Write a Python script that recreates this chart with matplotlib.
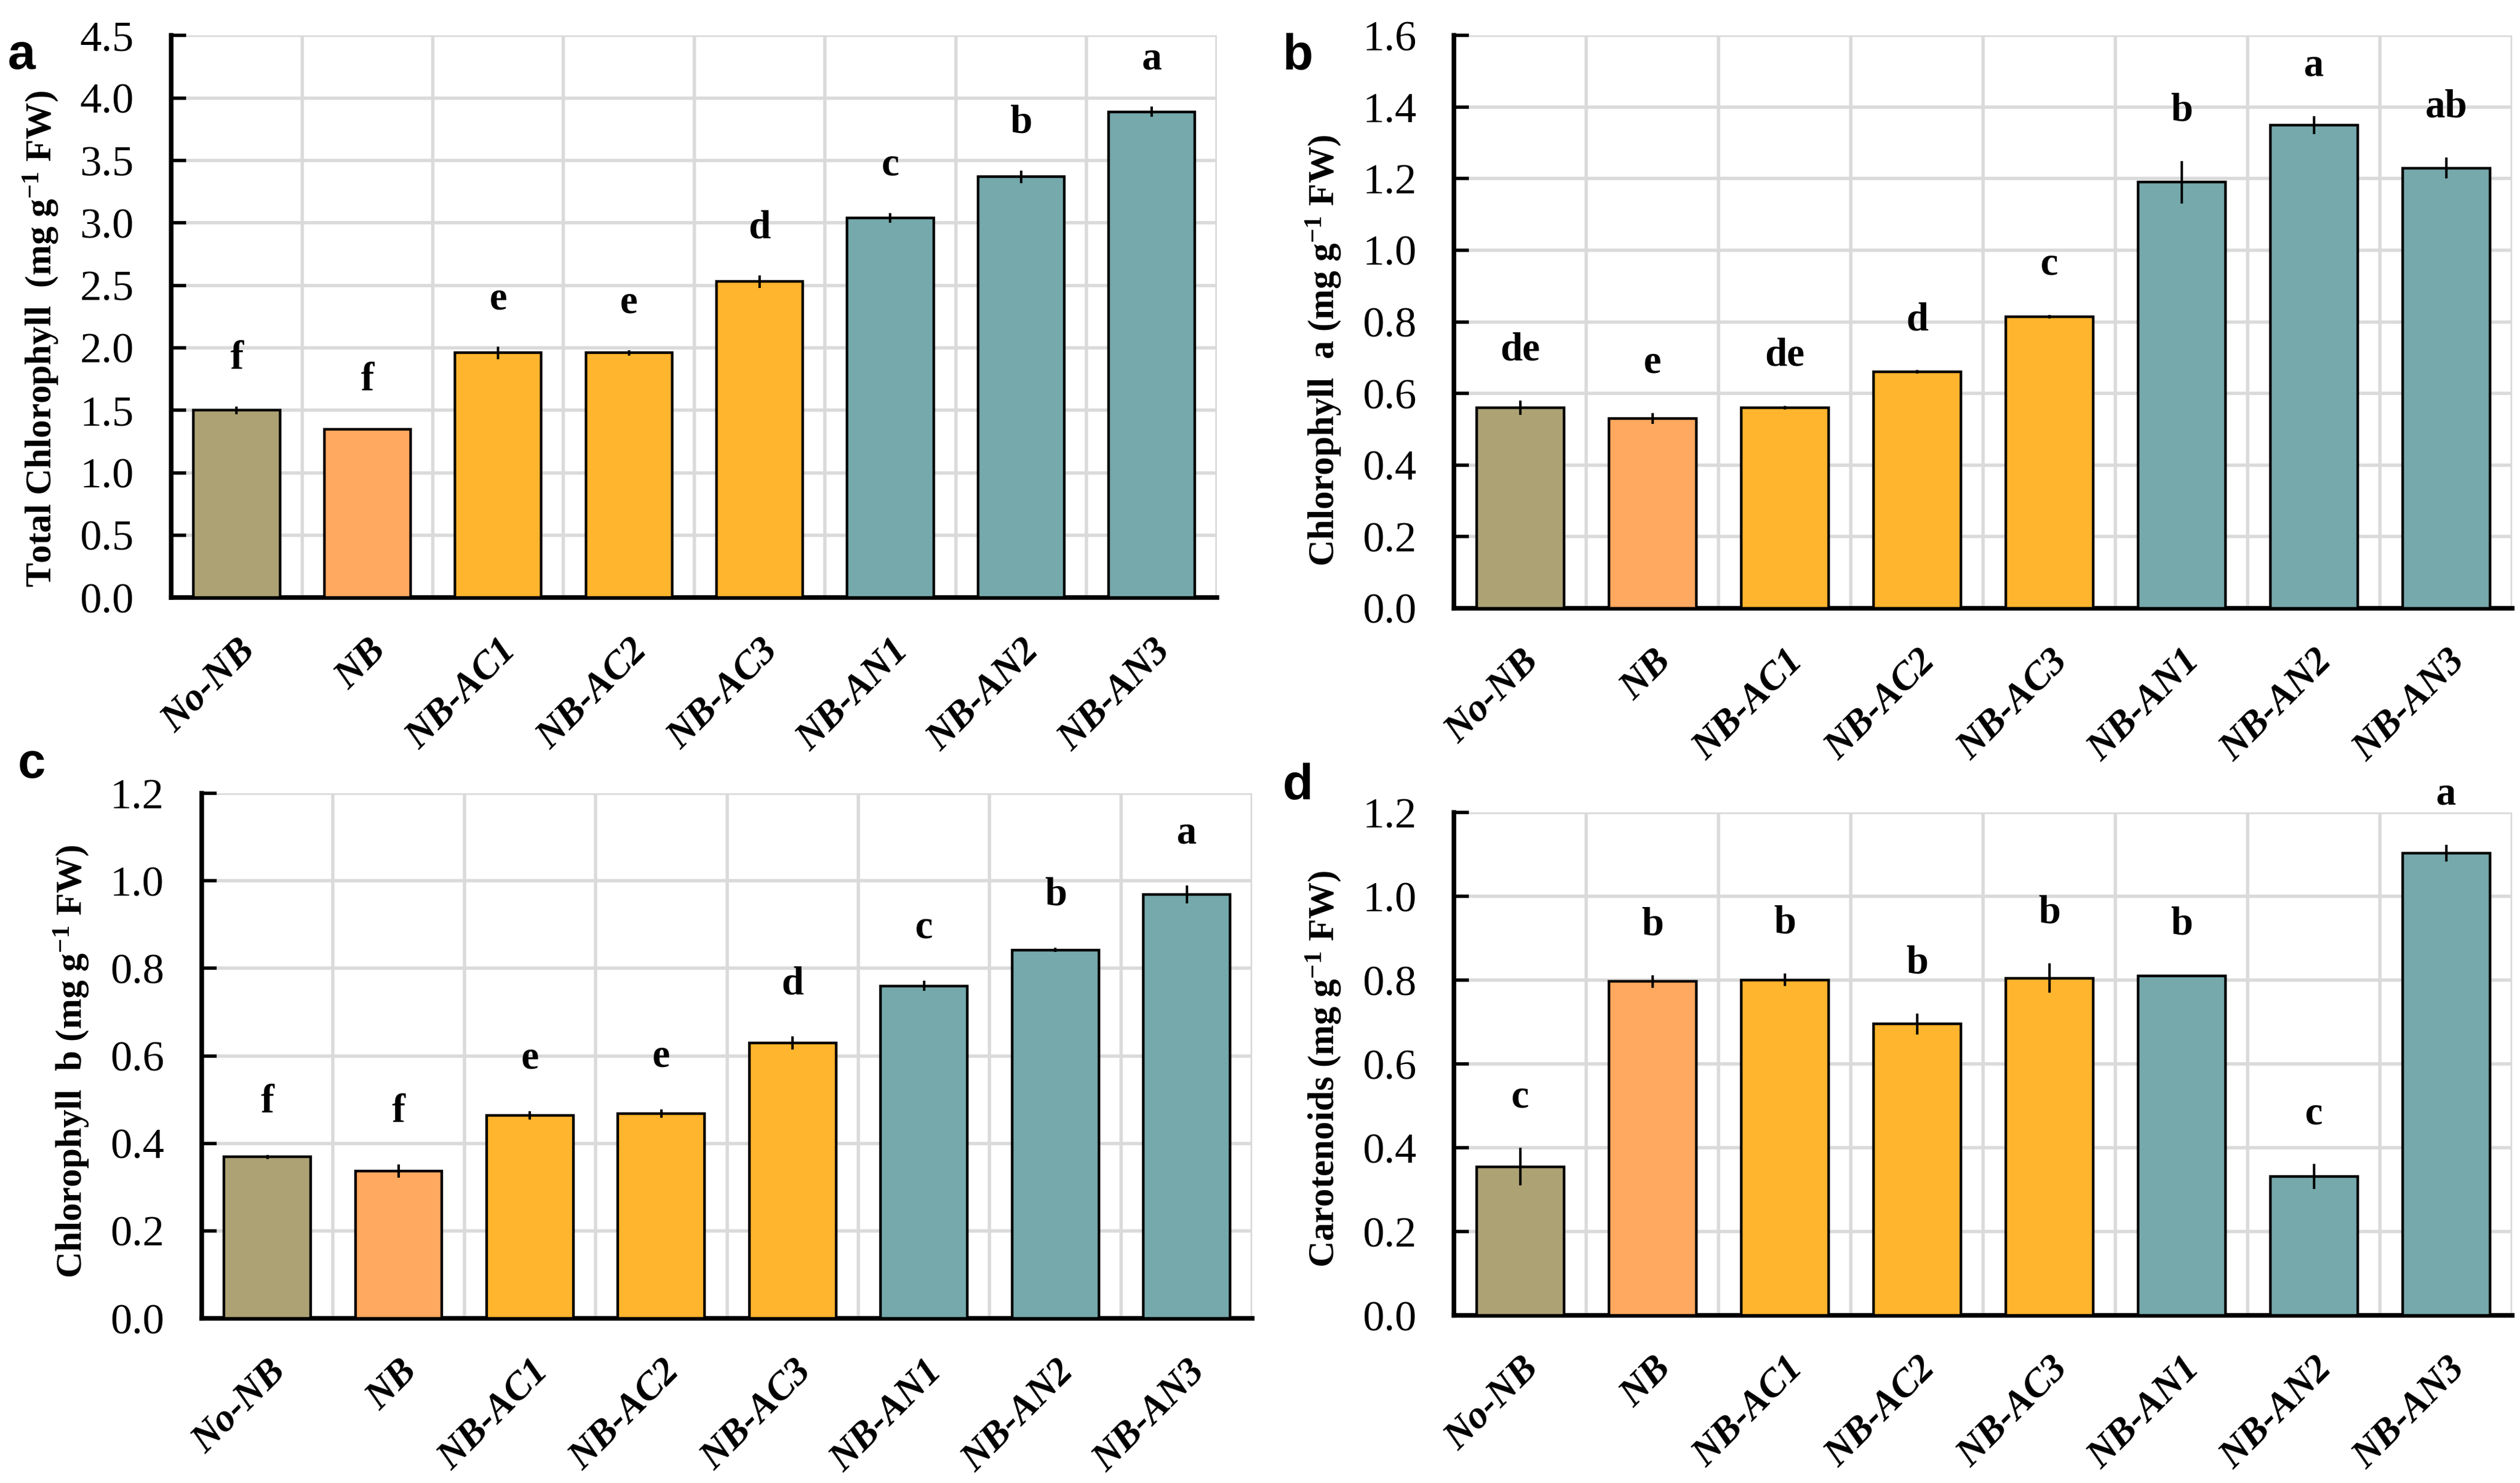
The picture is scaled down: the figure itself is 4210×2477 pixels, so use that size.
import numpy as np
import matplotlib
matplotlib.use('Agg')
import matplotlib.pyplot as plt
from matplotlib.ticker import MultipleLocator, FormatStrFormatter

# treatments and colours
groups = ['No-NB', 'NB', 'NB-AC1', 'NB-AC2', 'NB-AC3', 'NB-AN1', 'NB-AN2', 'NB-AN3']
bar_colors = ['#ADA273', '#FFA85F', '#FFB52D', '#FFB52D', '#FFB52D', '#75A9AC', '#75A9AC', '#75A9AC']

# a: total chlorophyll
total_chl = [1.50, 1.35, 1.96, 1.96, 2.53, 3.04, 3.37, 3.89]
total_chl_err = [0.03, 0.01, 0.05, 0.02, 0.05, 0.04, 0.05, 0.04]
total_chl_sig = ['f', 'f', 'e', 'e', 'd', 'c', 'b', 'a']

# b: chlorophyll a
chl_a = [0.56, 0.53, 0.56, 0.66, 0.815, 1.19, 1.35, 1.23]
chl_a_err = [0.02, 0.015, 0.005, 0.005, 0.005, 0.06, 0.025, 0.03]
chl_a_sig = ['de', 'e', 'de', 'd', 'c', 'b', 'a', 'ab']

# c: chlorophyll b
chl_b = [0.369, 0.337, 0.464, 0.468, 0.629, 0.760, 0.842, 0.969]
chl_b_err = [0.005, 0.015, 0.01, 0.01, 0.015, 0.012, 0.005, 0.02]
chl_b_sig = ['f', 'f', 'e', 'e', 'd', 'c', 'b', 'a']

# d: carotenoids
carot = [0.355, 0.797, 0.801, 0.696, 0.805, 0.810, 0.331, 1.104]
carot_err = [0.045, 0.015, 0.015, 0.025, 0.035, 0.003, 0.03, 0.02]
carot_sig = ['c', 'b', 'b', 'b', 'b', 'b', 'c', 'a']

plt.rcParams['font.family'] = ['Liberation Serif', 'DejaVu Serif']
plt.rcParams['mathtext.default'] = 'regular'

fig = plt.figure(figsize=(42.1, 24.77), dpi=100)

# tag, axes rect, values, errors, letters, ymax, tick step, ylabel, letter offset, tag position, ylabel y
panels = [
    ('a', [0.068, 0.597, 0.415, 0.379], total_chl, total_chl_err, total_chl_sig, 4.5, 0.5,
     'Total Chlorophyll  (mg g$^{-1}$ FW)', 0.38, (0.003, 0.978), 0.46),
    ('b', [0.577, 0.590, 0.420, 0.386], chl_a, chl_a_err, chl_a_sig, 1.6, 0.2,
     'Chlorophyll  a (mg g$^{-1}$ FW)', 0.14, (0.509, 0.978), 0.45),
    ('c', [0.080, 0.111, 0.417, 0.354], chl_b, chl_b_err, chl_b_sig, 1.2, 0.2,
     'Chlorophyll  b (mg g$^{-1}$ FW)', 0.12, (0.007, 0.500), 0.49),
    ('d', [0.577, 0.113, 0.420, 0.339], carot, carot_err, carot_sig, 1.2, 0.2,
     'Carotenoids (mg g$^{-1}$ FW)', 0.12, (0.509, 0.486), 0.49),
]

x = np.arange(len(groups))
for tag, rect, vals, errs, sig, ymax, step, ylab, off, tagpos, ylab_y in panels:
    ax = fig.add_axes(rect)
    ax.bar(x, vals, width=0.66, color=bar_colors, edgecolor='black', linewidth=3.2, zorder=3)
    ax.errorbar(x, vals, yerr=errs, fmt='none', ecolor='black', elinewidth=3, capsize=0, zorder=4)
    for xi, v, e, s in zip(x, vals, errs, sig):
        ax.text(xi, v + e + off, s, ha='center', va='center', fontsize=48, fontweight='bold')
    ax.set_xlim(-0.5, 7.5)
    ax.set_ylim(0, ymax)
    ax.yaxis.set_major_locator(MultipleLocator(step))
    ax.yaxis.set_major_formatter(FormatStrFormatter('%.1f'))
    ax.set_xticks(x)
    ax.set_xticks(np.arange(0.5, 8, 1), minor=True)
    ax.set_xticklabels(groups, rotation=45, ha='right', rotation_mode='anchor',
                       fontsize=47, fontweight='bold', fontstyle='italic')
    ax.tick_params(axis='x', which='major', direction='in', length=14, width=3, pad=42)
    ax.tick_params(axis='x', which='minor', length=0)
    ax.tick_params(axis='y', direction='in', length=18, width=4, labelsize=52, pad=45)
    ax.grid(True, axis='y', which='major', color='#DADADA', linewidth=4, zorder=0)
    ax.grid(True, axis='x', which='minor', color='#DADADA', linewidth=4, zorder=0)
    for side in ['top', 'right']:
        ax.spines[side].set_visible(False)
    for side in ['left', 'bottom']:
        ax.spines[side].set_linewidth(5.5)
    ax.set_ylabel(ylab, fontsize=44, fontweight='bold', labelpad=24)
    ax.yaxis.label.set_y(ylab_y)
    fig.text(tagpos[0], tagpos[1], tag, fontsize=60, fontweight='bold',
             family='Liberation Sans', ha='left', va='top')

fig.savefig('out.png', dpi=100)
